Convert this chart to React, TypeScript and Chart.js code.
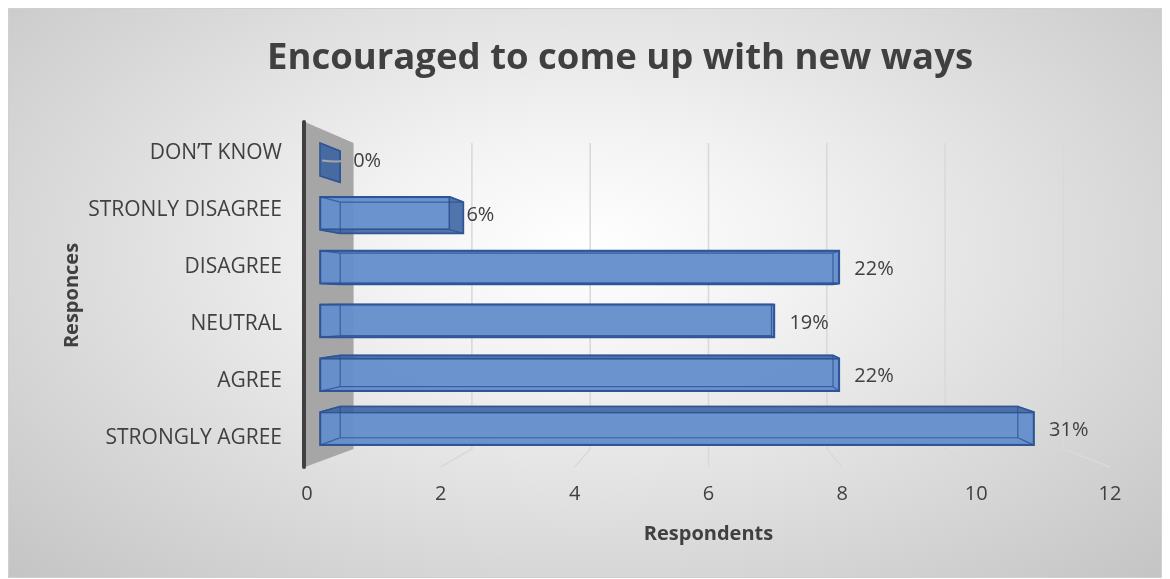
import React, { useEffect, useRef } from "react";
import { Chart, registerables } from "chart.js";

Chart.register(...registerables);

// ---------- data ----------
const chartTitle = "Encouraged to come up with new ways";
const categories = ["DON’T KNOW", "STRONLY DISAGREE", "DISAGREE", "NEUTRAL", "AGREE", "STRONGLY AGREE"];
const respondents = [0, 2, 8, 7, 8, 11];
const xAxisTitle = "Respondents";
const yAxisTitle = "Responces";
const tickMin = 0;
const tickMax = 12;
const tickStep = 2;

// ---------- styles ----------
const FONT = "'Open Sans', 'DejaVu Sans', sans-serif";
const TEXT = "#404040";
const K_BAR = 0.949; // depth scale of bar back faces
const K_GRID = 0.884; // depth scale of back wall
const HULL_FILL = "rgba(58,98,160,0.88)";
const FRONT_FILL = "rgba(125,170,230,0.6)";
const EDGE = "rgba(38,78,140,0.75)";
const OUTLINE = "#2f5597";

type P = [number, number];

function hull(points: P[]): P[] {
  const pts = points.slice().sort((a, b) => (a[0] - b[0]) || (a[1] - b[1]));
  const cross = (o: P, a: P, b: P) => (a[0] - o[0]) * (b[1] - o[1]) - (a[1] - o[1]) * (b[0] - o[0]);
  const lower: P[] = [];
  for (const p of pts) {
    while (lower.length >= 2 && cross(lower[lower.length - 2], lower[lower.length - 1], p) <= 0) lower.pop();
    lower.push(p);
  }
  const upper: P[] = [];
  for (let i = pts.length - 1; i >= 0; i--) {
    const p = pts[i];
    while (upper.length >= 2 && cross(upper[upper.length - 2], upper[upper.length - 1], p) <= 0) upper.pop();
    upper.push(p);
  }
  upper.pop();
  lower.pop();
  return lower.concat(upper);
}

function barBoxes(chart: any) {
  const meta = chart.getDatasetMeta(0);
  const xs = chart.scales.x;
  const area = chart.chartArea;
  const vpx = xs.getPixelForValue(6.1);
  const vpy = (area.top + area.bottom) / 2 + 6;
  const px = (v: number) => vpx + (v - vpx) * K_BAR;
  const py = (v: number) => vpy + (v - vpy) * K_BAR;
  return meta.data.map((el: any, i: number) => {
    const { x, y, base, height } = el.getProps(["x", "y", "base", "height"], true);
    const fx0 = Math.min(base, x);
    const fx1 = Math.max(base, x);
    const fy0 = y - height / 2;
    const fy1 = y + height / 2;
    return {
      fx0, fx1, fy0, fy1,
      bx0: px(fx0), bx1: px(fx1), by0: py(fy0), by1: py(fy1),
      y, value: respondents[i],
    };
  });
}

const scenePlugin = {
  id: "scene3d",
  beforeDatasetsDraw(chart: any) {
    const ctx = chart.ctx;
    const area = chart.chartArea;
    const x2 = chart.scales.x2;
    const vp = x2.getPixelForValue(6);
    const backTop = area.top + 18;
    const backBottom = area.bottom - 17;
    const frontBottom = area.bottom + 1;
    ctx.save();
    // gridlines (back wall + floor diagonals)
    ctx.strokeStyle = "#d9d9d9";
    ctx.lineWidth = 1.6;
    for (const t of x2.ticks) {
      if (t.value === tickMin) continue;
      const f = x2.getPixelForValue(t.value);
      const b = vp + (f - vp) * K_GRID;
      ctx.beginPath();
      ctx.moveTo(b, backTop);
      ctx.lineTo(b, backBottom);
      ctx.lineTo(f, frontBottom);
      ctx.stroke();
    }
    // side wall
    const f0 = x2.getPixelForValue(tickMin);
    const b0 = vp + (f0 - vp) * K_GRID;
    ctx.fillStyle = "#a6a6a6";
    ctx.beginPath();
    ctx.moveTo(f0 - 2, area.top - 3);
    ctx.lineTo(b0, backTop);
    ctx.lineTo(b0, backBottom);
    ctx.lineTo(f0 - 2, frontBottom);
    ctx.closePath();
    ctx.fill();
    // axis line
    ctx.strokeStyle = "#404040";
    ctx.lineWidth = 4;
    ctx.lineCap = "round";
    ctx.beginPath();
    ctx.moveTo(f0 - 3, area.top - 3);
    ctx.lineTo(f0 - 3, frontBottom);
    ctx.stroke();
    // bar bodies (silhouettes)
    for (const b of barBoxes(chart)) {
      const h = hull([
        [b.fx0, b.fy0], [b.fx1, b.fy0], [b.fx1, b.fy1], [b.fx0, b.fy1],
        [b.bx0, b.by0], [b.bx1, b.by0], [b.bx1, b.by1], [b.bx0, b.by1],
      ]);
      ctx.fillStyle = HULL_FILL;
      ctx.beginPath();
      h.forEach((p, i) => (i ? ctx.lineTo(p[0], p[1]) : ctx.moveTo(p[0], p[1])));
      ctx.closePath();
      ctx.fill();
    }
    ctx.restore();
  },
  afterDatasetsDraw(chart: any) {
    const ctx = chart.ctx;
    ctx.save();
    const boxes = barBoxes(chart);
    for (const b of boxes) {
      ctx.strokeStyle = EDGE;
      ctx.lineWidth = 1.2;
      ctx.beginPath();
      ctx.rect(b.bx0, b.by0, b.bx1 - b.bx0, b.by1 - b.by0);
      ctx.moveTo(b.fx0, b.fy0); ctx.lineTo(b.bx0, b.by0);
      ctx.moveTo(b.fx1, b.fy0); ctx.lineTo(b.bx1, b.by0);
      ctx.moveTo(b.fx0, b.fy1); ctx.lineTo(b.bx0, b.by1);
      ctx.moveTo(b.fx1, b.fy1); ctx.lineTo(b.bx1, b.by1);
      ctx.stroke();
      const h = hull([
        [b.fx0, b.fy0], [b.fx1, b.fy0], [b.fx1, b.fy1], [b.fx0, b.fy1],
        [b.bx0, b.by0], [b.bx1, b.by0], [b.bx1, b.by1], [b.bx0, b.by1],
      ]);
      ctx.strokeStyle = OUTLINE;
      ctx.lineWidth = 1.6;
      ctx.beginPath();
      h.forEach((p, i) => (i ? ctx.lineTo(p[0], p[1]) : ctx.moveTo(p[0], p[1])));
      ctx.closePath();
      ctx.stroke();
    }
    // data labels
    const total = respondents.reduce((a, v) => a + v, 0);
    ctx.font = `20px ${FONT}`;
    ctx.fillStyle = TEXT;
    ctx.textAlign = "left";
    ctx.textBaseline = "middle";
    for (const b of boxes) {
      const lx = b.value === 0 ? b.bx1 + 13 : b.fx1 >= b.bx1 ? b.fx1 + 15 : b.bx1 + 3;
      const ly = b.y + 2;
      if (b.value === 0) {
        ctx.strokeStyle = "#a6a6a6";
        ctx.lineWidth = 2;
        ctx.beginPath();
        ctx.moveTo(b.fx0 + 2, ly - 1);
        ctx.quadraticCurveTo((b.fx0 + lx) / 2, ly + 1, lx - 6, ly - 1);
        ctx.stroke();
      }
      ctx.fillText(`${Math.round((b.value / total) * 100)}%`, lx, ly);
    }
    ctx.restore();
  },
  afterDraw(chart: any) {
    const ctx = chart.ctx;
    ctx.save();
    ctx.font = `bold 36.5px ${FONT}`;
    ctx.fillStyle = TEXT;
    ctx.textAlign = "center";
    ctx.textBaseline = "alphabetic";
    ctx.fillText(chartTitle, 612, 60.5);
    ctx.restore();
  },
};

export default function App() {
  const canvasRef = useRef<HTMLCanvasElement | null>(null);

  useEffect(() => {
    if (!canvasRef.current) return;
    const chart = new Chart(canvasRef.current, {
      type: "bar",
      data: {
        labels: categories,
        datasets: [
          {
            data: respondents.map((v, i) => ({ x: v, y: i })),
            xAxisID: "x",
            yAxisID: "yb",
            backgroundColor: FRONT_FILL,
            borderColor: OUTLINE,
            borderWidth: 1.5,
            borderSkipped: false,
            barThickness: 33,
          },
        ],
      },
      options: {
        animation: false,
        responsive: true,
        maintainAspectRatio: false,
        devicePixelRatio: 1,
        indexAxis: "y",
        layout: { padding: { left: 48, right: 52, top: 117, bottom: 28 } },
        plugins: {
          legend: { display: false },
          tooltip: { enabled: false },
          title: { display: false },
        },
        scales: {
          x: { type: "linear", min: -0.2, max: 12.17, display: false },
          yb: {
            type: "linear",
            axis: "y",
            reverse: true,
            offset: false,
            grid: { offset: false },
            min: -0.64,
            max: 5.695,
            display: false,
          },
          x2: {
            type: "linear",
            position: "bottom",
            min: tickMin,
            max: tickMax,
            ticks: { stepSize: tickStep, color: TEXT, font: { family: FONT, size: 20 }, padding: 16 },
            grid: { display: false, drawTicks: false },
            border: { display: false },
            title: {
              display: true,
              text: xAxisTitle,
              color: TEXT,
              font: { family: FONT, size: 20, weight: "bold" },
              padding: { top: 0, bottom: 4 },
            },
          },
          y: {
            type: "category",
            position: "left",
            grid: { display: false, drawTicks: false },
            border: { display: false },
            ticks: { color: TEXT, font: { family: FONT, size: 21 }, padding: 25 },
            title: {
              display: true,
              text: yAxisTitle,
              color: TEXT,
              font: { family: FONT, size: 20, weight: "bold" },
              padding: { top: 4, bottom: 4 },
            },
            afterFit: (s: any) => {
              s.width = 251;
            },
          },
        },
      } as any,
      plugins: [scenePlugin],
    });
    return () => chart.destroy();
  }, []);

  return (
    <div
      style={{
        position: "relative",
        width: 1154,
        height: 570,
        background: "radial-gradient(ellipse at 50% 42%, #ffffff 0%, #f3f3f3 25%, #c4c4c4 100%)",
        outline: "1px solid #d0d0d0",
        outlineOffset: -1,
      }}
    >
      <style>{`body{overflow:hidden}`}</style>
      <canvas ref={canvasRef} />
    </div>
  );
}
